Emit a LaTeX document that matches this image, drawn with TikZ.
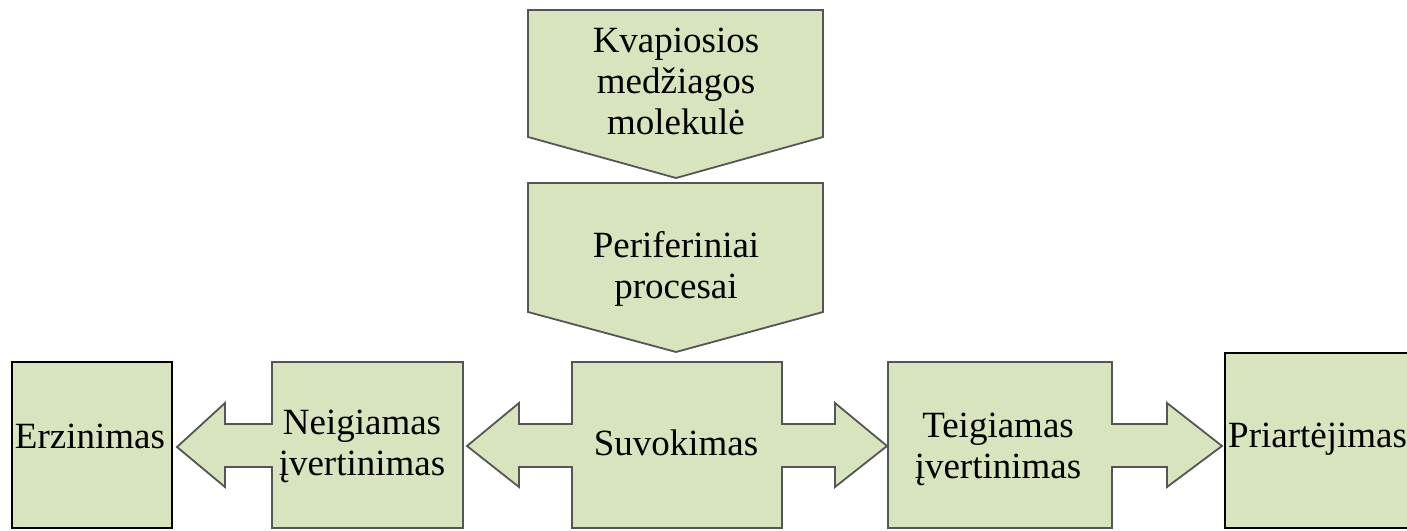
\documentclass[tikz,border=0pt]{standalone}
\usepackage{fontspec}
\setmainfont{Liberation Serif}
\definecolor{boxfill}{RGB}{215,228,189}
\definecolor{boxline}{RGB}{85,85,85}
\tikzset{
  shapebox/.style={fill=boxfill, draw=boxline, line width=1.8pt, line join=miter},
  plainbox/.style={fill=boxfill, draw=black, line width=1.4pt},
  lbl/.style={inner sep=0pt, align=center, font=\fontsize{37}{41}\selectfont, text=black}
}
\begin{document}
\begin{tikzpicture}[x=1pt,y=-1pt]
\useasboundingbox (0,0) rectangle (1407,530);
\clip (0,0) rectangle (1407,530);
% top pentagons
\draw[shapebox] (528,10) -- (823,10) -- (823,137) -- (676,178) -- (528,137) -- cycle;
\draw[shapebox] (528,183) -- (823,183) -- (823,312) -- (676,352) -- (528,312) -- cycle;
% plain boxes
\draw[plainbox] (12,362) rectangle (172,528);
\draw[plainbox] (1225,353) rectangle (1440,528);
% Neigiamas with left arrow
\draw[shapebox] (272,362) -- (463,362) -- (463,528) -- (272,528) -- (272,467) -- (225,467) -- (225,487) -- (177,447) -- (225,403) -- (225,424) -- (272,424) -- cycle;
% Suvokimas with left-right arrow
\draw[shapebox] (572,362) -- (782,362) -- (782,424) -- (835,424) -- (835,403) -- (887,446) -- (835,487) -- (835,467) -- (782,467) -- (782,528) -- (572,528) -- (572,467) -- (519,467) -- (519,487) -- (467,446) -- (519,403) -- (519,424) -- (572,424) -- cycle;
% Teigiamas with right arrow
\draw[shapebox] (888,362) -- (1112,362) -- (1112,424) -- (1167,424) -- (1167,403) -- (1222,446) -- (1167,487) -- (1167,467) -- (1112,467) -- (1112,528) -- (888,528) -- cycle;
% labels
\node[lbl] (kvap) at (676,81) {Kvapiosios\\medžiagos\\molekulė};
\node[lbl] (peri) at (676,269) {Periferiniai\\procesai};
\node[lbl] (suvo) at (676,443) {Suvokimas};
\node[lbl] (erzi) at (90,436) {Erzinimas};
\node[lbl] (neig) at (362,446) {Neigiamas\\įvertinimas};
\node[lbl] (teig) at (998,449) {Teigiamas\\įvertinimas};
\node[lbl, anchor=west] (pria) at (1228,439) {Priartėjimas};
\end{tikzpicture}
\end{document}
